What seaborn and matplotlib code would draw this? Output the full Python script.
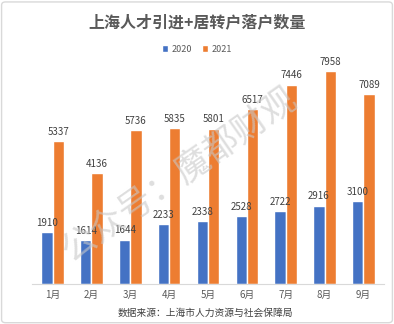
import matplotlib
matplotlib.use("Agg")
import matplotlib.pyplot as plt
import seaborn as sns
import pandas as pd
from matplotlib.patches import FancyBboxPatch, Patch

months = ["1月", "2月", "3月", "4月", "5月", "6月", "7月", "8月", "9月"]
series_names = ["2020", "2021"]
values_2020 = [1910, 1614, 1644, 2233, 2338, 2528, 2722, 2916, 3100]
values_2021 = [5337, 4136, 5736, 5835, 5801, 6517, 7446, 7958, 7089]

title = "上海人才引进+居转户落户数量"
source = "数据来源：上海市人力资源与社会保障局"
watermark = "公众号：魔都财观"

df = pd.DataFrame({
    "month": months * 2,
    "year": [series_names[0]] * len(months) + [series_names[1]] * len(months),
    "value": values_2020 + values_2021,
})

sns.set_theme(style="white")
plt.rcParams["font.family"] = ["Noto Sans CJK SC", "DejaVu Sans"]

colors = ["#4472C4", "#ED7D31"]
fig = plt.figure(figsize=(3.94, 3.24), dpi=100)
fig.patch.set_facecolor("white")
fig.patches.append(FancyBboxPatch((0.004, 0.004), 0.992, 0.99, boxstyle="round,pad=0,rounding_size=0.01",
                                  transform=fig.transFigure, fill=False, edgecolor="#d9d9d9", lw=1.0))

ax = fig.add_axes([32/394, (324-283.5)/324, (384-32)/394, (283.5-56.5)/324])
sns.barplot(data=df, x="month", y="value", hue="year", palette=colors, width=0.58, gap=0,
            ax=ax, legend=False, saturation=1)
ax.set_ylim(0, 8500)
ax.set_xlim(-0.53, 8.53)
ax.set_xlabel("")
ax.set_ylabel("")
ax.set_yticks([])
for s in ["top", "right", "left"]:
    ax.spines[s].set_visible(False)
ax.spines["bottom"].set_color("#d9d9d9")
ax.spines["bottom"].set_linewidth(0.8)
ax.tick_params(axis="x", length=0, labelsize=7, colors="#595959", pad=5)

for cont in ax.containers:
    ax.bar_label(cont, fmt="%d", padding=3, fontsize=7, color="#404040")

fig.text(0.5, 1 - 22/324, title, ha="center", va="center", fontsize=11.5, fontweight="bold", color="#595959")
handles = [Patch(facecolor=c, label=n) for c, n in zip(colors, series_names)]
fig.legend(handles=handles, loc="center", bbox_to_anchor=(0.5, 1 - 49/324), ncol=2, frameon=False,
           fontsize=6.5, handlelength=0.7, handleheight=0.7, handletextpad=0.4, columnspacing=1.0,
           labelcolor="#595959")
fig.text(0.52, 1 - 312.5/324, source, ha="center", va="center", fontsize=7, color="#404040")
fig.text(0.455, 0.46, watermark, ha="center", va="center", fontsize=25, rotation=35,
         color="#c8c8c8", alpha=0.6, fontweight="light")

fig.savefig("out.png", dpi=100)
